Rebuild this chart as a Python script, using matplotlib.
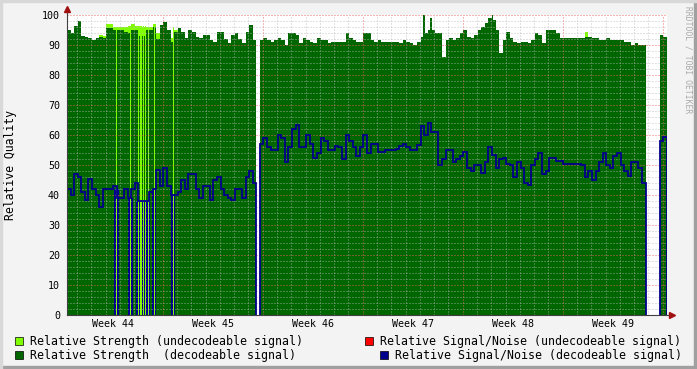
import numpy as np
import matplotlib.pyplot as plt
from matplotlib.patches import Rectangle

plt.rcParams['font.family'] = 'DejaVu Sans Mono'

nan = np.nan
step = 0.25  # days per sample (6 h)

# relative strength, decodeable signal (one value per 6 h)
strength_ok = [
    95, 94, 96.5, 98, 93, 92.8, 92.2, 91.7, 92.2, 92.8,
    92.2, 95.6, 95.6, 95, 95, 95, 94.4, 94, 95, 95,
    93, 93, 95, 95, 96, 92, 96.7, 97.8, 95, 91,
    94.4, 95.6, 94.4, 92.2, 95, 94.4, 92.8, 92.2, 93.3, 93.3,
    91.7, 91, 94.4, 94.4, 92, 90.6, 93.3, 94, 92, 90.6,
    94.4, 96.7, 91.7, nan, 91.7, 92.2, 91.7, 91, 91.7, 92.2,
    91.7, 90, 94, 94, 93.3, 90.6, 92.2, 91.7, 91, 90.6,
    92.2, 91.7, 91.7, 90.6, 91, 91, 91, 91, 94, 92.2,
    91.7, 91, 91, 94, 94, 91.7, 91, 91.7, 91, 91,
    91, 91, 91, 90.6, 91.7, 91, 90.6, 90, 91, 92.8,
    94, 95, 95, 94, 94, 86, 91.7, 92.2, 91.7, 92.2,
    94, 95, 92.8, 92.2, 93.3, 95, 96, 97.2, 98.9, 98.3,
    95, 87.2, 91.7, 94.4, 92.2, 91, 90.6, 91, 91, 90.6,
    91.7, 94, 93.3, 90.6, 95, 95, 95, 94, 92.2, 92.2,
    92.2, 92.2, 92.2, 92.2, 92.2, 92.8, 92.8, 92.2, 92.2, 91.7,
    91.7, 92.2, 91.7, 91.7, 91.7, 91.7, 91, 91, 90, 90.6,
    90, 90, nan, nan, nan, nan, 93.3, 92.8,
]

# relative signal/noise, decodeable signal
snr_ok = [
    42, 40, 47, 46, 41, 38.5, 45.5, 42, 40, 36,
    42, 42, 42, 43, 39, 39, 42, 39, 42, 44,
    38, 38, 38, 41, 42, 48.5, 43, 49, 43, 40,
    40, 41, 45, 42, 47, 47, 42, 39, 43, 43,
    38.5, 45, 46, 42, 40, 39, 38.5, 42, 42, 39,
    46, 48, 44, nan, 57, 59, 56, 55, 55, 60,
    59, 51, 56, 62, 63.5, 56, 56, 60, 57, 52.5,
    54, 59, 58, 55, 55, 56.5, 56, 52, 60, 58,
    56, 53, 56, 60, 54, 57, 57, 54.5, 54.5, 55,
    55, 55, 55.5, 56.5, 57, 56, 55, 55, 56.7, 63,
    60, 64, 61, 61, 50, 52, 55, 55, 51, 52,
    53, 54.5, 49, 48, 50, 50, 47.5, 51, 56, 53.5,
    49, 52, 52.5, 50.5, 50, 46, 51, 49, 44, 43.5,
    50, 52, 54, 47, 48, 52.5, 52.5, 51.5, 51.5, 50.5,
    50.5, 50.5, 50.5, 50.5, 50, 46, 48, 45, 48, 51,
    54, 50, 49, 53, 54, 50, 48, 46.5, 51, 51,
    49, 44, nan, nan, nan, nan, 58, 59.5,
]

# relative strength, undecodeable signal (sample index -> value)
bad_idx = [9, 10, 11, 12, 13, 14, 15, 16, 17, 18, 19, 20, 21, 22, 23, 24, 25, 29, 30, 145]
bad_val = [93.5, 93, 97, 97, 96, 96, 96, 96, 96.5, 97, 96.5, 96.5, 96, 96, 96, 97, 94, 92.5, 95, 94.5]

# short undecodeable bursts (day, strength, s/n just before)
drop_day = [3.465, 4.445, 4.991, 5.180, 5.341, 5.495, 5.691, 6.111, 7.441]
drop_strength = [96, 96, 96.5, 96.5, 96.5, 96.5, 96, 97, 96]
drop_snr = [42, 39, 38, 38, 38, 38, 38, 42, 40]

# short strength peaks
peak_day = [25.0, 25.48, 29.77]
peak_val = [100, 98.9, 100]

week_labels = ['Week 44', 'Week 45', 'Week 46', 'Week 47', 'Week 48', 'Week 49']
first_week = 6.7  # day of first week boundary

light = '#80FF00'
dark = '#006600'
blue = '#00008C'
red = '#FF0000'

n = len(strength_ok)
edges = np.arange(n + 1) * step
bad = np.full(n, nan)
bad[bad_idx] = bad_val

fig = plt.figure(figsize=(6.97, 3.69), dpi=100, facecolor='#F3F3F3')
ax = fig.add_axes([67 / 697, 54 / 369, 600 / 697, 300 / 369])
ax.set_facecolor('white')

ax.stairs(bad, edges, fill=True, color=light, lw=0, zorder=1)
ax.stairs(strength_ok, edges, fill=True, color=dark, lw=0, zorder=1.1)
ax.bar(peak_day, peak_val, width=0.1, color=dark, lw=0, zorder=1.1)
ax.bar(drop_day, drop_snr, width=0.3, color=blue, lw=0, zorder=1.5)
ax.bar(drop_day, drop_strength, width=0.09, color=light, lw=0, zorder=1.6)
ax.stairs(snr_ok, edges, baseline=0, color=blue, lw=1.3, zorder=3)

# rrdtool style grid on top
grid_minor = dict(color='#B8B8B8', alpha=0.4, lw=0.75, ls=(0, (1.4, 1.4)), zorder=2.5, antialiased=False)
grid_major = dict(color='#F06060', alpha=0.45, lw=0.75, ls=(0, (1.4, 1.4)), zorder=2.5, antialiased=False)
for d in np.arange(first_week - 6, n * step, 1.0):
    k = (d - first_week) / 7
    ax.axvline(d, **(grid_major if abs(k - round(k)) < 1e-6 else grid_minor))
for v in range(2, 101, 2):
    ax.axhline(v, **(grid_major if v % 10 == 0 else grid_minor))

ax.set_xlim(0, n * step)
ax.set_ylim(0, 100)
for s in ax.spines.values():
    s.set_visible(False)

centers = [first_week - 3.5 + 7 * k for k in range(len(week_labels))]
ax.set_xticks(centers, labels=week_labels)
ax.set_yticks(range(0, 101, 10))
ax.tick_params(axis='both', length=0, labelsize=7.2)
ax.tick_params(axis='x', pad=3)
ax.tick_params(axis='y', pad=5)

# axes with arrows
ax.plot([0, 0], [0, 1.02], transform=ax.transAxes, color='#404040', lw=0.8, clip_on=False, zorder=5)
ax.plot([0, 1.008], [0, 0], transform=ax.transAxes, color='#404040', lw=0.8, clip_on=False, zorder=5)
ax.plot([0], [1.02], marker='^', ms=4, color='#A01010', transform=ax.transAxes, clip_on=False, zorder=6)
ax.plot([1.008], [0], marker='>', ms=4, color='#A01010', transform=ax.transAxes, clip_on=False, zorder=6)

fig.text(11 / 697, 1 - 165 / 369, 'Relative Quality', rotation=90, fontsize=8.3,
         ha='center', va='center')
fig.text(688 / 697, 1 - 60 / 369, 'RRDTOOL / TOBI OETIKER', rotation=270, fontsize=5.8,
         color='#AAAAAA', ha='center', va='center')

legend = [
    (15, 341, light, 'Relative Strength (undecodeable signal)'),
    (365, 341, red, 'Relative Signal/Noise (undecodeable signal)'),
    (15, 355, dark, 'Relative Strength  (decodeable signal)'),
    (380, 355, blue, 'Relative Signal/Noise (decodeable signal)'),
]
for x, y, c, label in legend:
    fig.add_artist(Rectangle((x / 697, 1 - (y + 4) / 369), 8 / 697, 8 / 369, facecolor=c,
                             edgecolor='black', lw=0.5, transform=fig.transFigure))
    fig.text((x + 15) / 697, 1 - y / 369, label, fontsize=8.4, ha='left', va='center')

# frame
fig.add_artist(Rectangle((0, 0), 1, 3 / 369, color='#A0A0A0', transform=fig.transFigure))
fig.add_artist(Rectangle((1 - 3 / 697, 0), 3 / 697, 1, color='#A0A0A0', transform=fig.transFigure))
fig.add_artist(Rectangle((0, 1 - 2 / 369), 1, 2 / 369, color='#D8D8D8', transform=fig.transFigure))
fig.add_artist(Rectangle((0, 0), 2 / 697, 1, color='#D8D8D8', transform=fig.transFigure))

fig.savefig('out.png', dpi=100, facecolor=fig.get_facecolor())
